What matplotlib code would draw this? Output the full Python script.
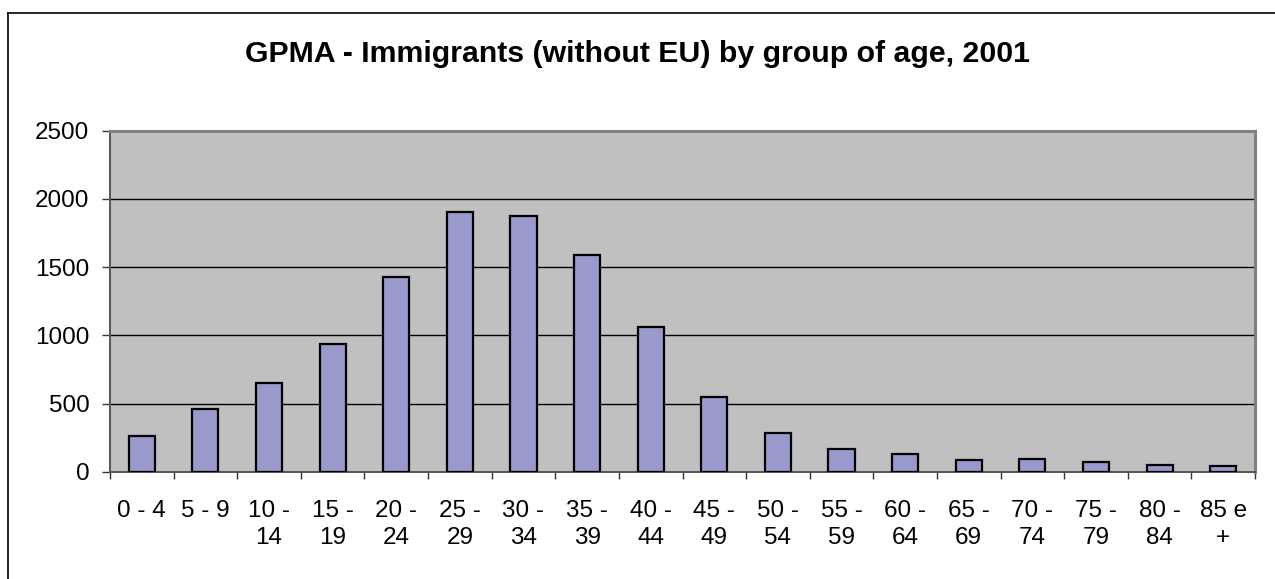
import matplotlib
matplotlib.use("Agg")
import matplotlib.pyplot as plt
from matplotlib.lines import Line2D

categories = ["0 - 4", "5 - 9", "10 -\n14", "15 -\n19", "20 -\n24", "25 -\n29", "30 -\n34",
              "35 -\n39", "40 -\n44", "45 -\n49", "50 -\n54", "55 -\n59", "60 -\n64",
              "65 -\n69", "70 -\n74", "75 -\n79", "80 -\n84", "85 e\n+"]
values = [262, 462, 651, 940, 1431, 1906, 1874, 1588, 1060, 546, 289, 166,
          135, 91, 98, 76, 51, 42]
yticks = [0, 500, 1000, 1500, 2000, 2500]
title = "GPMA - Immigrants (without EU) by group of age, 2001"

plt.rcParams['font.family'] = ['Liberation Sans', 'DejaVu Sans']

W, H = 1275, 579
fig = plt.figure(figsize=(W / 100, H / 100), dpi=100)
fig.patch.set_facecolor('white')
ax = fig.add_axes([110 / W, 1 - 472 / H, (1255 - 110) / W, (472 - 130.5) / H])
ax.set_facecolor('#C0C0C0')

x = list(range(len(categories)))
ax.bar(x, values, width=0.41, color='#9999CC', edgecolor='black', linewidth=1.6, zorder=3)

ax.set_xlim(-0.5, len(categories) - 0.5)
ax.set_ylim(0, 2500)
ax.set_yticks(yticks)
ax.set_yticklabels([str(v) for v in yticks])
for v in yticks[1:-1]:
    ax.axhline(v, color='black', linewidth=1.0, zorder=1)

ax.set_xticks([i - 0.5 for i in range(len(categories) + 1)])
ax.set_xticklabels([])
ax.set_xticks(x, minor=True)
ax.set_xticklabels(categories, minor=True, fontsize=17.5, linespacing=1.3)
ax.tick_params(axis='x', which='minor', length=0, pad=20)
ax.tick_params(axis='x', which='major', direction='out', length=5, width=1, color='#333333')
ax.tick_params(axis='y', direction='out', length=5.8, width=1, color='#333333', pad=9,
               labelsize=17.5)

for s in ['top', 'right']:
    ax.spines[s].set_color('#808080')
    ax.spines[s].set_linewidth(2.2)
for s in ['left', 'bottom']:
    ax.spines[s].set_color('#555555')
    ax.spines[s].set_linewidth(1.4)

fig.text(0.5, 1 - 62 / H, title, ha='center', va='baseline', fontsize=21.8,
         fontweight='bold')

# outer chart frame
fig.add_artist(Line2D([7.5 / W, 7.5 / W], [0, 1 - 12.7 / H], color='black', linewidth=1.2,
                      transform=fig.transFigure))
fig.add_artist(Line2D([7.5 / W, 1], [1 - 12.7 / H, 1 - 12.7 / H], color='black', linewidth=1.2,
                      transform=fig.transFigure))

fig.savefig('out.png', dpi=100)
